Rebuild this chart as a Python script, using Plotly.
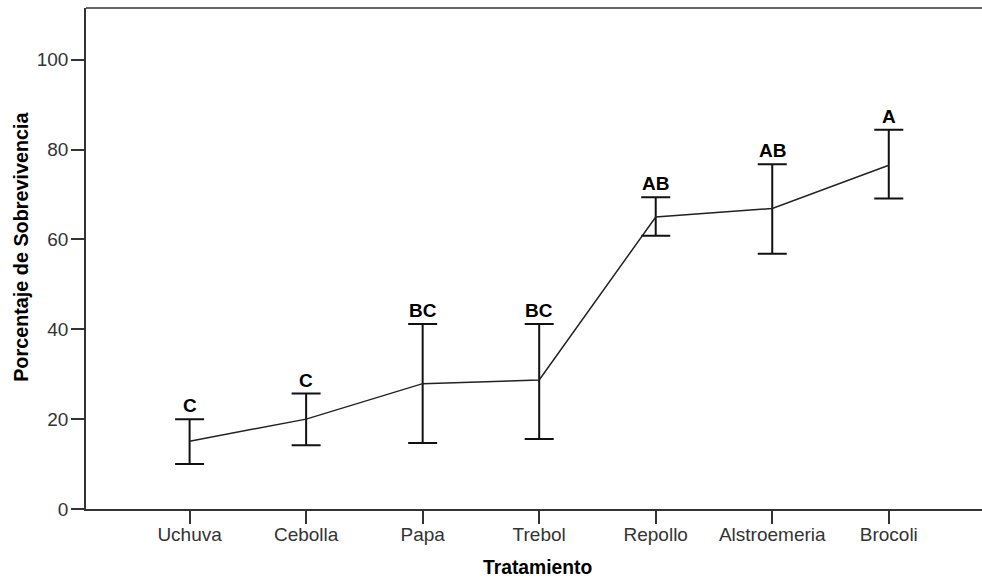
import plotly.graph_objects as go

categories = ["Uchuva", "Cebolla", "Papa", "Trebol", "Repollo", "Alstroemeria", "Brocoli"]
means = [15.1, 20.0, 27.9, 28.7, 65.0, 66.9, 76.5]
upper = [20.0, 25.7, 41.2, 41.2, 69.4, 76.7, 84.4]
lower = [10.0, 14.2, 14.7, 15.6, 60.8, 56.8, 69.1]
letters = ["C", "C", "BC", "BC", "AB", "AB", "A"]
y_ticks = [0, 20, 40, 60, 80, 100]

err_plus = [u - m for u, m in zip(upper, means)]
err_minus = [m - l for m, l in zip(means, lower)]

FONT = "Liberation Sans, Arial, sans-serif"

fig = go.Figure()
fig.add_trace(go.Scatter(
    x=categories, y=means, mode="lines",
    line=dict(color="#222222", width=1.5),
    error_y=dict(type="data", symmetric=False, array=err_plus, arrayminus=err_minus,
                 color="#111111", thickness=2, width=14.5),
    showlegend=False, hoverinfo="skip",
))

annotations = []
for c, u, t in zip(categories, upper, letters):
    annotations.append(dict(x=c, y=u, xref="x", yref="y", text="<b>%s</b>" % t,
                            showarrow=False, yanchor="bottom", yshift=1,
                            font=dict(family=FONT, size=19, color="#000000")))

annotations.append(dict(x=0.5045, y=-0.1166, xref="paper", yref="paper",
                        text="<b>Tratamiento</b>", showarrow=False,
                        xanchor="center", yanchor="middle",
                        font=dict(family=FONT, size=19.3, color="#000000")))
annotations.append(dict(x=-0.0727, y=0.523, xref="paper", yref="paper",
                        text="<b>Porcentaje de Sobrevivencia</b>", showarrow=False,
                        textangle=-90, xanchor="center", yanchor="middle",
                        font=dict(family=FONT, size=19.8, color="#000000")))

fig.update_layout(
    width=982, height=579,
    margin=dict(l=86, r=0, t=8, b=70),
    paper_bgcolor="white", plot_bgcolor="white",
    font=dict(family=FONT, size=19, color="#333333"),
    annotations=annotations,
    shapes=[dict(type="line", xref="paper", yref="paper", x0=0, x1=1, y0=1, y1=1,
                 line=dict(color="#666666", width=2))],
)
fig.update_xaxes(type="category", range=[-0.889, 6.8],
                 showline=True, linecolor="#333333", linewidth=1.5,
                 ticks="outside", ticklen=13, tickwidth=1.5, tickcolor="#333333",
                 ticklabelstandoff=-6,
                 showgrid=False, zeroline=False,
                 tickfont=dict(family=FONT, size=19, color="#333333"))
fig.update_yaxes(range=[0, 111.5], tickvals=y_ticks,
                 showline=True, linecolor="#333333", linewidth=1.5,
                 ticks="outside", ticklen=13, tickwidth=1.5, tickcolor="#333333",
                 ticklabelstandoff=-1,
                 showgrid=False, zeroline=False,
                 tickfont=dict(family=FONT, size=19, color="#333333"))

fig.write_html("out.html")
